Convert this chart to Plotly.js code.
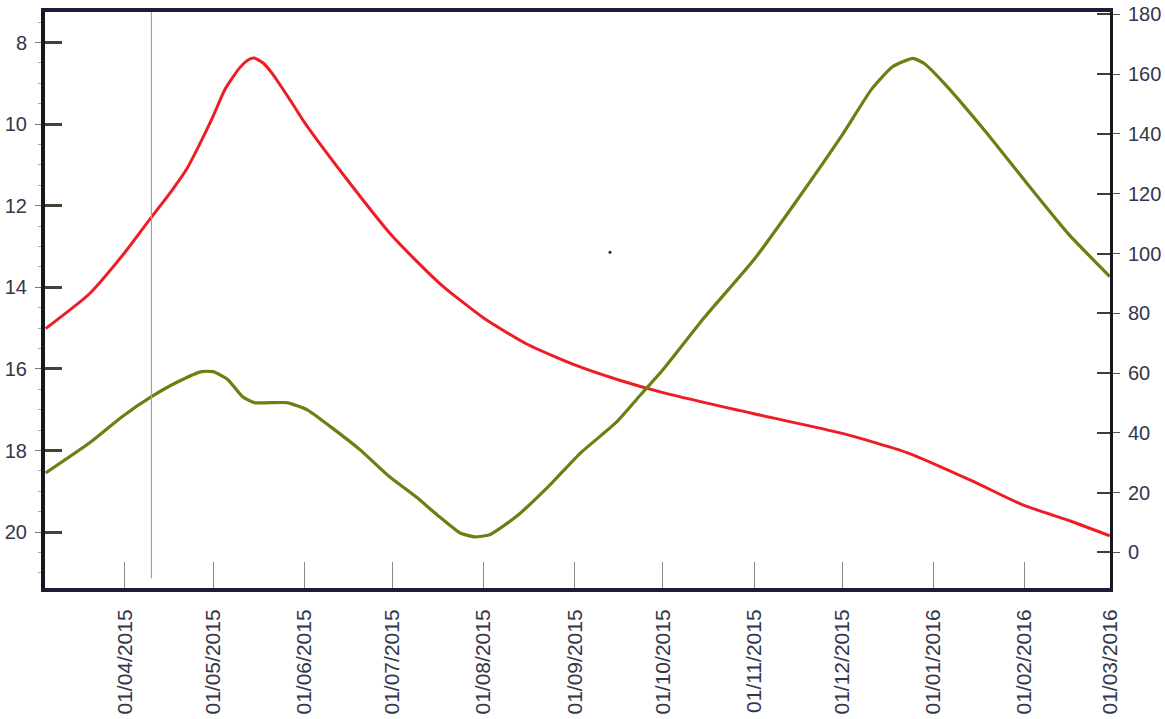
<!DOCTYPE html>
<html>
<head>
<meta charset="utf-8">
<script src="https://cdn.plot.ly/plotly-3.0.1.min.js"></script>
<style>
  html, body { margin: 0; padding: 0; background: #ffffff; }
  #chart { width: 1165px; height: 719px; }
</style>
</head>
<body>
<div id="chart"></div>
<script>
// ---- data ----
const redDates = ['2015-03-05','2015-03-20','2015-04-01','2015-04-10','2015-04-17','2015-04-22','2015-04-26',
  '2015-05-01','2015-05-05','2015-05-10','2015-05-13','2015-05-15','2015-05-18','2015-05-21','2015-05-28','2015-06-01',
  '2015-06-16','2015-07-01','2015-07-17','2015-08-01','2015-08-16','2015-09-01','2015-09-16','2015-10-01',
  '2015-11-01','2015-12-01','2015-12-23','2016-01-14','2016-01-31','2016-02-17','2016-03-01'];
const redValues = [15.01,14.15,13.14,12.28,11.62,11.10,10.55,
  9.80,9.15,8.62,8.42,8.38,8.50,8.75,9.50,9.95,
  11.40,12.75,13.90,14.75,15.40,15.90,16.27,16.58,
  17.10,17.58,18.05,18.74,19.32,19.74,20.09];

const greenDates = ['2015-03-05','2015-03-20','2015-03-31','2015-04-10','2015-04-19','2015-04-27','2015-05-01','2015-05-06',
  '2015-05-11','2015-05-15','2015-05-26','2015-06-02','2015-06-10','2015-06-20','2015-06-30','2015-07-09','2015-07-17',
  '2015-07-24','2015-07-29','2015-08-03','2015-08-12','2015-08-23','2015-09-03','2015-09-15','2015-09-24','2015-10-01',
  '2015-10-15','2015-11-01','2015-11-15','2015-12-01','2015-12-11','2015-12-18',
  '2015-12-25','2015-12-29','2016-01-05','2016-01-19','2016-02-01','2016-02-16','2016-03-01'];
const greenValues = [26.6,36.7,45.4,52.1,57.1,60.5,60.5,57.8,
  52.1,50.1,50.1,47.7,42.0,34.3,25.3,18.6,11.9,
  6.5,5.2,5.9,11.9,22.0,33.3,43.4,53.4,61.1,
  78.5,98.0,117.0,139.7,155.0,162.4,
  165.3,163.5,156.6,140.5,124.5,106.5,92.3];

const leftTicks = [8,10,12,14,16,18,20];
const rightTicks = [0,20,40,60,80,100,120,140,160,180];
const monthTicks = ['2015-04-01','2015-05-01','2015-06-01','2015-07-01','2015-08-01','2015-09-01','2015-10-01',
  '2015-11-01','2015-12-01','2016-01-01','2016-02-01','2016-03-01'];
const monthLabels = ['01/04/2015','01/05/2015','01/06/2015','01/07/2015','01/08/2015','01/09/2015','01/10/2015',
  '01/11/2015','01/12/2015','01/01/2016','01/02/2016','01/03/2016'];
const cursorDate = '2015-04-10';
const strayDates = ['2015-09-13'];
const strayValues = [13.14];

const xRange = ['2015-03-04 19:00','2016-03-01 02:00'];
const leftRange = [21.37, 7.25];
const rightRange = [-11.9, 180.8];

const tickFont = {family: 'Liberation Sans, Arial, sans-serif', size: 20, color: '#34364c'};

const traces = [
  {x: redDates, y: redValues, type: 'scatter', mode: 'lines', yaxis: 'y',
   line: {color: '#ee1c24', width: 3, shape: 'spline', smoothing: 0.6}, hoverinfo: 'skip'},
  {x: greenDates, y: greenValues, type: 'scatter', mode: 'lines', yaxis: 'y2',
   line: {color: '#6b7f12', width: 3.2, shape: 'spline', smoothing: 0.5}, hoverinfo: 'skip'},
  {x: strayDates, y: strayValues, type: 'scatter', mode: 'markers', yaxis: 'y',
   marker: {color: '#222', size: 3}, hoverinfo: 'skip'},
  // invisible helpers so the overlay tick axes get drawn
  {x: [xRange[0]], y: [leftRange[0]], type: 'scatter', mode: 'markers', yaxis: 'y3',
   marker: {opacity: 0}, hoverinfo: 'skip'},
  {x: [xRange[0]], y: [rightRange[0]], type: 'scatter', mode: 'markers', yaxis: 'y4',
   marker: {opacity: 0}, hoverinfo: 'skip'}
];

const layout = {
  width: 1165, height: 719,
  margin: {l: 45, r: 55, t: 12, b: 131},
  paper_bgcolor: '#ffffff', plot_bgcolor: '#ffffff',
  showlegend: false,
  xaxis: {
    type: 'date', range: xRange,
    tickvals: monthTicks, ticktext: monthLabels,
    tickangle: -90, tickfont: {family: 'Liberation Sans, Arial, sans-serif', size: 21, color: '#34364c'},
    ticks: 'inside', ticklen: 26, tickwidth: 1, tickcolor: '#8a8a8a',
    ticklabelstandoff: 9,
    showgrid: false, zeroline: false,
    showline: true, linecolor: '#1c1c34', linewidth: 4, mirror: true
  },
  yaxis: {
    range: leftRange, tickvals: leftTicks,
    ticks: 'outside', ticklen: 6, tickwidth: 1, tickcolor: '#777',
    ticklabelstandoff: 4,
    minor: {ticks: 'outside', ticklen: 3, dtick: 0.5, tick0: 8, tickcolor: '#aaa', tickwidth: 1},
    tickfont: tickFont,
    showgrid: false, zeroline: false,
    showline: true, linecolor: '#15181c', linewidth: 4
  },
  yaxis3: {
    range: leftRange, tickvals: leftTicks, overlaying: 'y', side: 'left',
    ticks: 'inside', ticklen: 17, tickwidth: 3, tickcolor: '#3b4538',
    showticklabels: false, showgrid: false, zeroline: false, showline: false
  },
  yaxis2: {
    range: rightRange, tickvals: rightTicks, overlaying: 'y', side: 'right',
    ticks: 'outside', ticklen: 7, tickwidth: 1, tickcolor: '#555',
    ticklabelstandoff: 4,
    tickfont: tickFont,
    showgrid: false, zeroline: false,
    showline: true, linecolor: '#15181c', linewidth: 3
  },
  yaxis4: {
    range: rightRange, tickvals: rightTicks, overlaying: 'y', side: 'right',
    ticks: 'inside', ticklen: 13, tickwidth: 2, tickcolor: '#3b3f38',
    showticklabels: false, showgrid: false, zeroline: false, showline: false
  },
  shapes: [
    {type: 'line', xref: 'x', yref: 'paper', x0: cursorDate, x1: cursorDate, y0: 0.017, y1: 1,
     line: {color: '#a0a0a0', width: 1.2}}
  ]
};

Plotly.newPlot('chart', traces, layout, {staticPlot: true, displayModeBar: false});
</script>
</body>
</html>
